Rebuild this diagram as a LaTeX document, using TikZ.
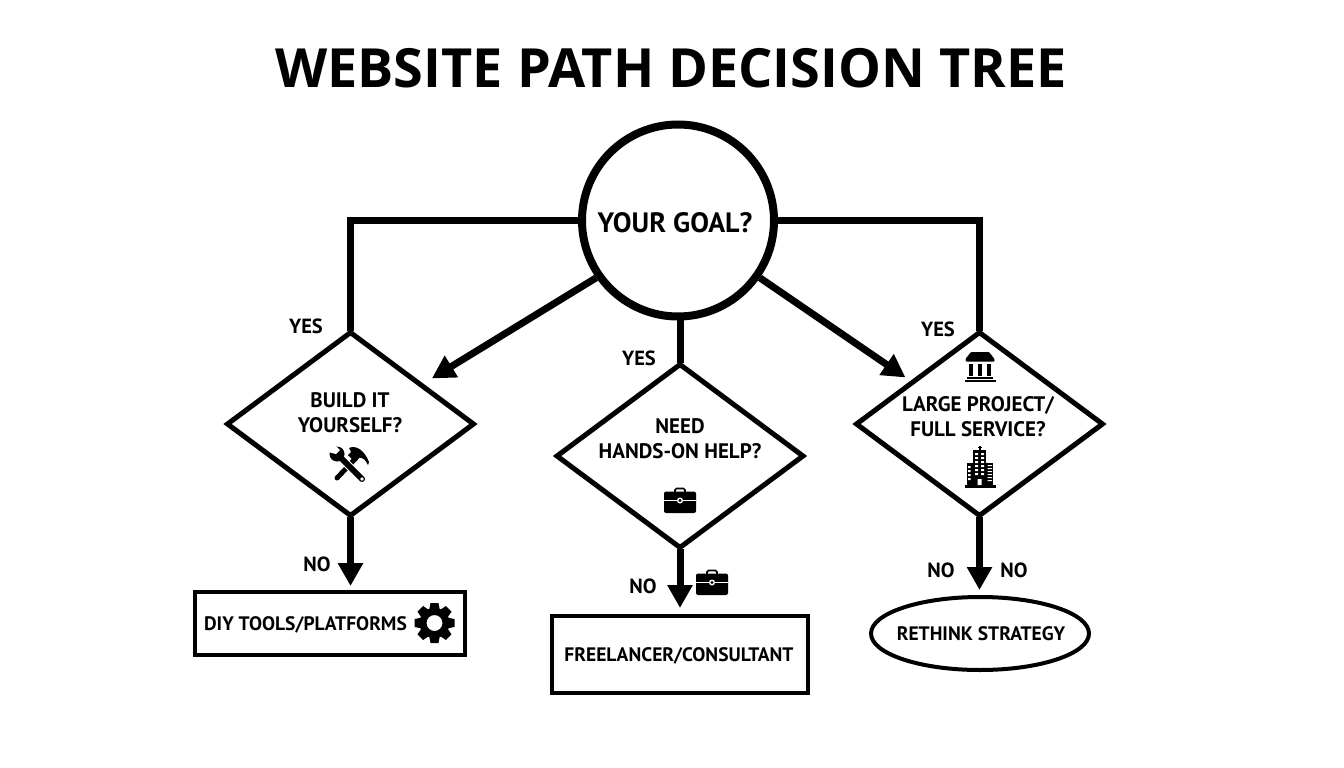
\documentclass[tikz,border=0pt]{standalone}
\usepackage{fontspec}
\setmainfont{PT Sans}
\newfontfamily\titlefont{Open Sans}
\usetikzlibrary{shapes.geometric,arrows.meta}
\tikzset{
  x=1pt,y=-1pt,
  goalnode/.style={circle,draw=black,line width=8pt,minimum size=192pt,inner sep=0pt,fill=white},
  decision/.style={diamond,draw=black,line width=5pt,minimum width=248pt,minimum height=185pt,inner sep=0pt,fill=white,aspect=1.34},
  boxnode/.style={rectangle,draw=black,line width=4pt,inner sep=0pt,fill=white},
  endnode/.style={ellipse,draw=black,line width=4pt,inner sep=0pt,fill=white,minimum width=218pt,minimum height=73pt},
  lbl/.style={font=\bfseries\fontsize{21}{25}\selectfont,align=center,inner sep=0pt,text=black},
  boxlbl/.style={font=\bfseries\fontsize{19.5}{24}\selectfont,align=center,inner sep=0pt,text=black},
  small/.style={font=\bfseries\fontsize{20.5}{24}\selectfont,inner sep=0pt,text=black},
  link/.style={line width=7pt,draw=black},
  arrowlink/.style={line width=7pt,draw=black,-{Triangle[width=24pt,length=23pt]}},
  bank/.pic={
    \fill[rounded corners=1pt] (-9,-15) -- (9,-15) -- (14.5,-8) -- (14.5,-5.5) -- (-14.5,-5.5) -- (-14.5,-8) -- cycle;
    \fill (-11,-3.5) rectangle (-7,9);
    \fill (-2,-3.5) rectangle (2,9);
    \fill (7,-3.5) rectangle (11,9);
    \fill (-13,9.5) rectangle (13,11.5);
    \fill (-15.5,12.5) rectangle (15.5,15);
  },
  tower/.pic={
    \fill (-15.5,18) rectangle (15.5,20.5);
    \fill (-13,-4) rectangle (-6,18);
    \fill (6,-4) rectangle (13,18);
    \fill (-7,-17) rectangle (6,18);
    \fill (-1,-21) rectangle (0.5,-17);
    \fill (-2.5,-20) rectangle (2,-19);
    \fill[white] (-5,-14) rectangle (-2,-12) (1,-14) rectangle (4,-12)
      (-5,-10) rectangle (-2,-8) (1,-10) rectangle (4,-8)
      (-5,-6) rectangle (-2,-4) (1,-6) rectangle (4,-4)
      (-5,-2) rectangle (-2,0) (1,-2) rectangle (4,0)
      (-5,2) rectangle (-2,4) (1,2) rectangle (4,4)
      (-5,6) rectangle (-2,8) (1,6) rectangle (4,8)
      (-2.5,12) rectangle (1.5,18)
      (-12,-1) rectangle (-9.5,1) (-12,3) rectangle (-9.5,5) (-12,7) rectangle (-9.5,9) (-12,11) rectangle (-9.5,13)
      (7.5,-2) rectangle (12,-0.8) (7.5,1) rectangle (12,2.2) (7.5,4) rectangle (12,5.2) (7.5,7) rectangle (12,8.2) (7.5,10) rectangle (12,11.2) (7.5,13) rectangle (12,14.2);
  },
  case/.pic={
    \draw[line width=1.6pt,rounded corners=1.5pt] (-5,-10) -- (-5,-13.5) -- (5,-13.5) -- (5,-10);
    \fill[rounded corners=2pt] (-16,-10.5) rectangle (16,11);
    \draw[white,line width=1pt] (-16,-1.5) -- (-3,-1.5) (3,-1.5) -- (16,-1.5);
    \fill[white] (0,-1.5) circle (3pt);
    \fill (0,-1.5) circle (1.6pt);
  },
  gearicon/.pic={
    \foreach \a in {0,45,...,315}{
      \fill[rotate=\a] (-4,-20) -- (4,-20) -- (5.5,-12) -- (-5.5,-12) -- cycle;
    }
    \fill[even odd rule] (0,0) circle (15pt) (0,0) circle (8pt);
  },
  tools/.pic={
    % hammer
    \draw[line width=5pt,line cap=round] (-12,13) -- (7,-7);
    \fill (-0,-17) .. controls (6,-20) and (15,-16) .. (20,-3) -- (19,0) .. controls (16,-6) and (13,-8) .. (10,-7) -- (6,-3) -- (-1,-10) -- (2,-13) -- cycle;
    % wrench
    \draw[white,line width=8pt] (-9,-8) -- (13,14);
    \draw[line width=6pt,line cap=round] (-9,-8) -- (13,14);
    \fill[white] (13,14) circle (1.8pt);
    \fill (-12,-11) circle (7.5pt);
    \fill[white] (-14,-20) -- (-9,-15) -- (-13,-11) -- (-21,-13) -- (-21,-20) -- cycle;
  }
}
\begin{document}
\begin{tikzpicture}
\useasboundingbox[fill=white] (0,0) rectangle (1344,768);

\node[font=\titlefont\bfseries\fontsize{54}{60}\selectfont,inner sep=0pt,text=black] (title) at (671,68) {WEBSITE PATH DECISION TREE};

\coordinate (goalc) at (678,220.5);
\node[decision] (d1) at (350.5,424) {};
\node[decision] (d2) at (680,456) {};
\node[decision] (d3) at (979.5,424) {};
\node[boxnode,minimum width=270pt,minimum height=63pt] (b1) at (330,623.5) {};
\node[boxnode,minimum width=256pt,minimum height=77pt] (b2) at (680,654.5) {};
\node[endnode] (b3) at (980,633.5) {};

\draw[link,shorten >=-2pt] (goalc) -| (d1.north);
\draw[link,shorten >=-2pt] (goalc) -| (d3.north);
\draw[link,shorten >=-2pt] (680,221) -- (d2.north);
\node[goalnode] (goal) at (goalc) {};
\node[lbl,font=\bfseries\fontsize{28}{30}\selectfont] (goaltext) at (675,223) {YOUR GOAL?};

\draw[arrowlink,shorten >=10pt] (goal.215) -- (d1.29);
\draw[arrowlink,shorten >=6pt] (goal.325) -- (d3.148);
\draw[arrowlink,shorten <=-2pt,shorten >=4pt] (d1.south) -- (d1.south |- b1.north);
\draw[arrowlink,shorten <=-2pt,shorten >=6pt] (d2.south) -- (d2.south |- b2.north);
\draw[arrowlink,shorten <=-2pt,shorten >=5pt] (d3.south) -- (d3.south |- b3.north);

\node[lbl] (t1) at (350,413) {BUILD IT\\YOURSELF?};
\node[lbl] (t2) at (680,439) {NEED\\HANDS-ON HELP?};
\node[lbl] (t3) at (978,417) {LARGE PROJECT/\\FULL SERVICE?};
\node[boxlbl] (t4) at (305.5,624.5) {DIY TOOLS/PLATFORMS};
\node[boxlbl] (t5) at (679,655.5) {FREELANCER/CONSULTANT};
\node[boxlbl] (t6) at (981,633.5) {RETHINK STRATEGY};

\node[small] (y1) at (306,326) {YES};
\node[small] (y2) at (639,358) {YES};
\node[small] (y3) at (938,329) {YES};
\node[small] (n1) at (317,564) {NO};
\node[small] (n2) at (643,586) {NO};
\node[small] (n3) at (941,570) {NO};
\node[small] (n4) at (1014,570) {NO};

\pic at (349,465) {tools};
\pic at (980,367) {bank};
\pic at (980,467) {tower};
\pic at (680,502) {case};
\pic at (712,584) {case};
\pic at (434.5,623) {gearicon};
\end{tikzpicture}
\end{document}
